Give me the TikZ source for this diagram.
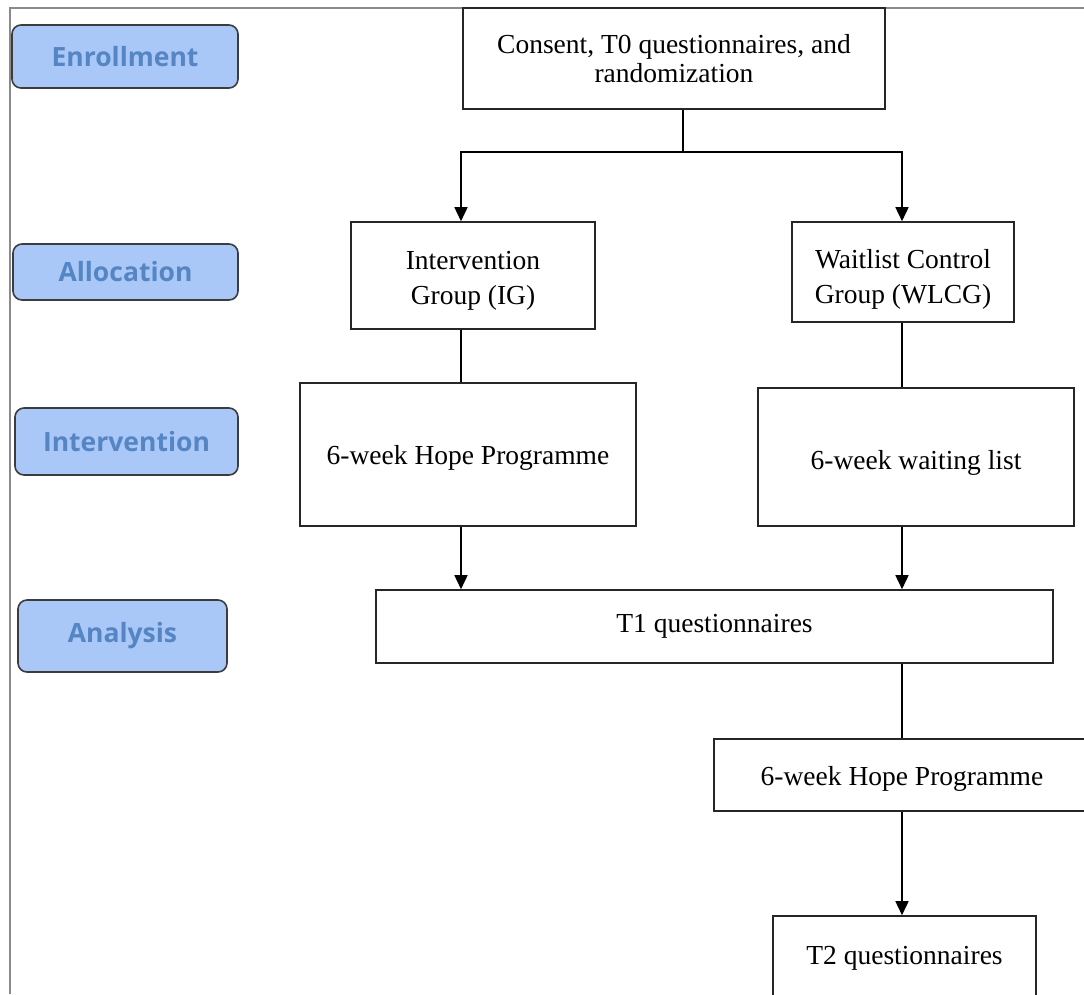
\documentclass[tikz,border=0pt]{standalone}
\usepackage{fontspec}
\setmainfont{Liberation Serif}
\newfontfamily\labelfont{Open Sans}
\usetikzlibrary{arrows.meta}
\definecolor{lblfill}{HTML}{A9C8F8}
\definecolor{lbltext}{HTML}{5585C2}
\definecolor{lbledge}{HTML}{3C3C3C}
\definecolor{framegray}{HTML}{8A8A8A}
\newcommand{\dropby}[2]{\raisebox{-#1}[\height][\depth]{#2}}
\newcommand{\twolines}[2]{\begin{tabular}{@{}c@{}}#1\\#2\end{tabular}}
\tikzset{
  stage/.style={draw=lbledge, line width=1.6pt, fill=lblfill, rounded corners=9pt,
    inner sep=0pt, text=lbltext, font=\labelfont\bfseries\fontsize{26.5}{30}\selectfont},
  flowbox/.style={draw=black!85, line width=1.6pt, fill=white, inner sep=0pt,
    align=center, font=\fontsize{27.5}{29}\selectfont},
  widelead/.style={font=\fontsize{27.5}{35}\selectfont},
  arr/.style={line width=1.6pt, -{Triangle[width=13pt,length=14pt]}},
  conn/.style={line width=1.6pt}
}
\begin{document}
\begin{tikzpicture}[x=1pt,y=-1pt]
\useasboundingbox (0,0) rectangle (1084,994);
\clip (0,0) rectangle (1084,994);
% frame
\draw[framegray, line width=1.3pt] (10,994) -- (10,8) -- (1084,8);
% stage labels
\node[stage, minimum width=226pt, minimum height=63pt] (enr) at (125,56.5) {Enrollment};
\node[stage, minimum width=225pt, minimum height=56pt] (all) at (125.5,272) {Allocation};
\node[stage, minimum width=223pt, minimum height=67pt] (int) at (126.5,441.5) {Intervention};
\node[stage, minimum width=209pt, minimum height=72pt] (ana) at (122.5,636) {Analysis};
% flow boxes
\node[flowbox, minimum width=422pt, minimum height=101pt] (con) at (674,58.5) {Consent, T0 questionnaires, and\\randomization};
\node[flowbox, widelead, minimum width=244pt, minimum height=107pt] (ig) at (473,275.5) {\dropby{4pt}{\twolines{Intervention}{Group (IG)}}};
\node[flowbox, widelead, minimum width=222pt, minimum height=100pt] (wl) at (903,272) {\dropby{7pt}{\twolines{Waitlist Control}{Group (WLCG)}}};
\node[flowbox, minimum width=336pt, minimum height=143pt] (h1) at (468,454.5) {\dropby{3pt}{6-week Hope Programme}};
\node[flowbox, minimum width=316pt, minimum height=138pt] (wt) at (916,457) {\dropby{6pt}{6-week waiting list}};
\node[flowbox, minimum width=677pt, minimum height=73pt] (t1) at (714.5,626.5) {T1 questionnaires};
\node[flowbox, minimum width=376pt, minimum height=72pt] (h2) at (902,775) {\dropby{4pt}{6-week Hope Programme}};
\node[flowbox, minimum width=263pt, minimum height=80pt] (t2) at (904.5,956) {\dropby{2pt}{T2 questionnaires}};
% connector columns
\coordinate (split) at (683,152);
\coordinate (xl) at (461,0);
\coordinate (xr) at (902,0);
\draw[conn] (con.south -| split) -- (split);
\draw[arr] (split) -| (ig.north -| xl);
\draw[arr] (split) -| (wl.north -| xr);
\draw[conn] (ig.south -| xl) -- (h1.north -| xl);
\draw[conn] (wl.south -| xr) -- (wt.north -| xr);
\draw[arr] (h1.south -| xl) -- (t1.north -| xl);
\draw[arr] (wt.south -| xr) -- (t1.north -| xr);
\draw[conn] (t1.south -| xr) -- (h2.north -| xr);
\draw[arr] (h2.south -| xr) -- (t2.north -| xr);
\end{tikzpicture}
\end{document}
